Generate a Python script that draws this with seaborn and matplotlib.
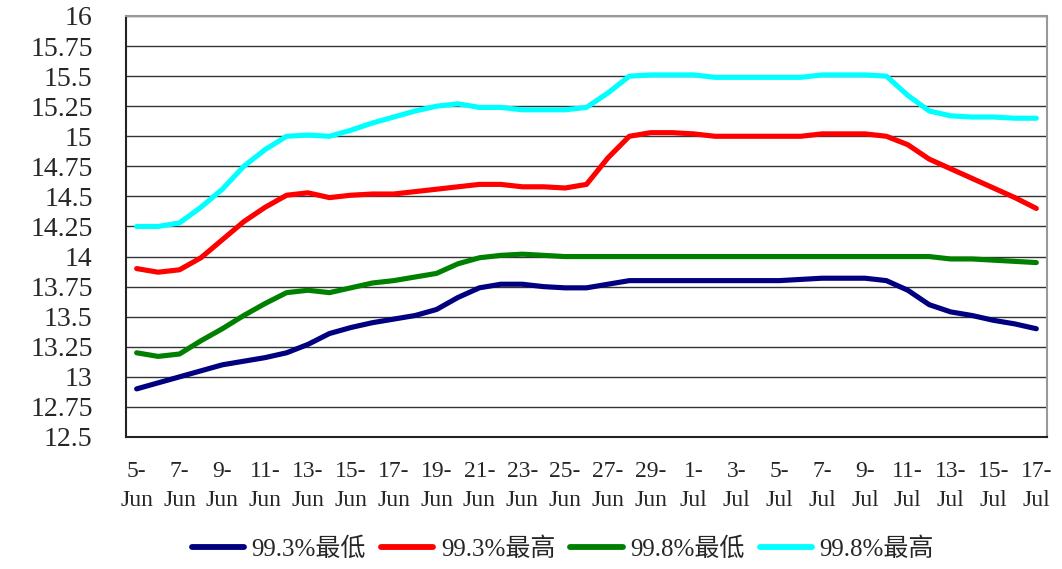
import matplotlib
matplotlib.use('Agg')
import matplotlib.pyplot as plt
import numpy as np
import pandas as pd
import seaborn as sns

# 5-Jun .. 17-Jul, one value per day
dates = [f'{d}-Jun' for d in range(5, 31)] + [f'{d}-Jul' for d in range(1, 18)]

low_993 = [12.90, 12.95, 13.00, 13.05, 13.10, 13.13, 13.16, 13.20, 13.27, 13.36,
           13.41, 13.45, 13.48, 13.51, 13.56, 13.66, 13.74, 13.77, 13.77, 13.75,
           13.74, 13.74, 13.77, 13.80, 13.80, 13.80, 13.80, 13.80, 13.80, 13.80,
           13.80, 13.81, 13.82, 13.82, 13.82, 13.80, 13.72, 13.60, 13.54, 13.51,
           13.47, 13.44, 13.40]
high_993 = [13.90, 13.87, 13.89, 13.99, 14.14, 14.29, 14.41, 14.51, 14.53, 14.49,
            14.51, 14.52, 14.52, 14.54, 14.56, 14.58, 14.60, 14.60, 14.58, 14.58,
            14.57, 14.60, 14.82, 15.00, 15.03, 15.03, 15.02, 15.00, 15.00, 15.00,
            15.00, 15.00, 15.02, 15.02, 15.02, 15.00, 14.93, 14.81, 14.73, 14.65,
            14.57, 14.49, 14.40]
low_998 = [13.20, 13.17, 13.19, 13.30, 13.40, 13.51, 13.61, 13.70, 13.72, 13.70,
           13.74, 13.78, 13.80, 13.83, 13.86, 13.94, 13.99, 14.01, 14.02, 14.01,
           14.00, 14.00, 14.00, 14.00, 14.00, 14.00, 14.00, 14.00, 14.00, 14.00,
           14.00, 14.00, 14.00, 14.00, 14.00, 14.00, 14.00, 14.00, 13.98, 13.98,
           13.97, 13.96, 13.95]
high_998 = [14.25, 14.25, 14.28, 14.41, 14.56, 14.75, 14.89, 15.00, 15.01, 15.00,
            15.05, 15.11, 15.16, 15.21, 15.25, 15.27, 15.24, 15.24, 15.22, 15.22,
            15.22, 15.24, 15.36, 15.50, 15.51, 15.51, 15.51, 15.49, 15.49, 15.49,
            15.49, 15.49, 15.51, 15.51, 15.51, 15.50, 15.34, 15.21, 15.17, 15.16,
            15.16, 15.15, 15.15]

names = ['99.3%最低', '99.3%最高', '99.8%最低', '99.8%最高']
colors = ['#000080', '#FF0000', '#008000', '#00FFFF']
y_ticks = [12.5, 12.75, 13, 13.25, 13.5, 13.75, 14, 14.25, 14.5, 14.75,
           15, 15.25, 15.5, 15.75, 16]

x = np.arange(len(dates))
df = pd.concat([pd.DataFrame({'x': x, 'price': vals, 'series': nm})
                for nm, vals in zip(names, [low_993, high_993, low_998, high_998])])

sns.set_style('white')
plt.rcParams['font.family'] = ['Liberation Serif', 'Noto Sans CJK SC']

fig = plt.figure(figsize=(10.62, 5.69), dpi=100)
ax = fig.add_axes([0.1186, 0.232, 0.8673, 0.7399])

sns.lineplot(data=df, x='x', y='price', hue='series', hue_order=names,
             palette=colors, linewidth=3.7, ax=ax, legend=False,
             solid_capstyle='round', solid_joinstyle='round')

ax.set_xlim(-0.5, len(dates) - 0.5)
ax.set_ylim(12.5, 16)
ax.set_yticks(y_ticks)
ax.set_yticklabels([f'{v:g}' for v in y_ticks], fontsize=20)
ax.grid(axis='y', color='#333333', linewidth=1.0)
ax.set_axisbelow(True)

# tick marks between every 2 categories, labels on the first category of each pair
ax.set_xticks(np.arange(1.5, len(dates) - 0.5, 2))
ax.set_xticklabels([])
ax.set_xticks(x[::2], minor=True)
ax.set_xticklabels([d.replace('-', '-\n') for d in dates[::2]], minor=True,
                   fontsize=17, linespacing=1.55)
ax.tick_params(axis='x', which='major', direction='in', length=7, width=1.2,
               color='#333333')
ax.tick_params(axis='x', which='minor', length=0, pad=17)
ax.tick_params(axis='y', direction='in', length=7, width=1.2, color='#333333', pad=24)

ax.set_xlabel('')
ax.set_ylabel('')
for side in ['left', 'bottom']:
    ax.spines[side].set_color('#222222')
    ax.spines[side].set_linewidth(1.5)
for side in ['top', 'right']:
    ax.spines[side].set_color('#999999')
    ax.spines[side].set_linewidth(1.5)

handles = [plt.Line2D([], [], color=c, linewidth=4.2, solid_capstyle='round')
           for c in colors]
fig.legend(handles, names, loc='center', bbox_to_anchor=(0.53, 0.035), ncol=4,
           frameon=False, fontsize=18, handlelength=2.1, handletextpad=0.3,
           columnspacing=0.6)

fig.savefig('out.png', dpi=100)
